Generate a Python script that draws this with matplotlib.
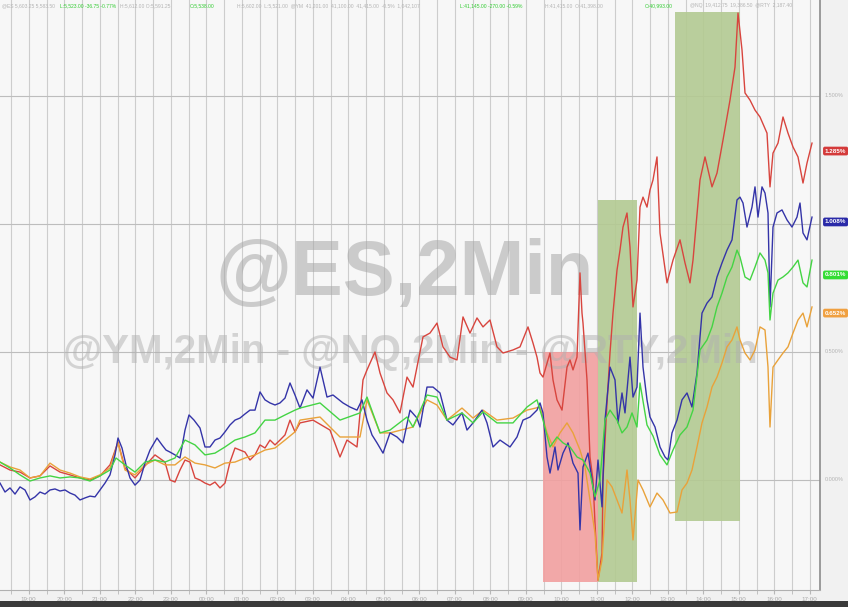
import matplotlib
matplotlib.use('Agg')
import matplotlib.pyplot as plt
import matplotlib.transforms as mtransforms
from matplotlib.patches import Rectangle
import numpy as np

plt.rcParams['font.family'] = ['Liberation Sans', 'DejaVu Sans']

# % change, 2-min bars
nq_x = [0, 10, 20, 30, 40, 50, 60, 70, 80, 90,
        100, 110, 118, 125, 135, 145, 155, 165, 170, 175,
        180, 185, 190, 195, 200, 205, 210, 215, 220, 225,
        230, 235, 240, 245, 250, 255, 260, 265, 270, 275,
        280, 285, 290, 295, 300, 313, 330, 340, 347, 357,
        363, 367, 375, 380, 387, 393, 400, 407, 413, 417,
        423, 430, 437, 443, 450, 457, 463, 470, 477, 483,
        490, 497, 503, 513, 520, 528, 533, 537, 540, 543,
        550, 553, 557, 562, 567, 570, 573, 577, 580, 582,
        583, 587, 590, 593, 595, 598, 602, 603, 607, 610,
        613, 617, 620, 623, 627, 630, 633, 637, 640, 643,
        647, 650, 653, 657, 660, 667, 673, 680, 685, 690,
        693, 700, 705, 712, 717, 723, 730, 735, 738, 742,
        745, 750, 755, 760, 767, 770, 773, 778, 783, 788,
        793, 798, 803, 807, 812]
nq_y = [0.059, 0.039, 0.031, 0.008, 0.016, 0.055, 0.031, 0.020, 0.008, 0.000,
        0.016, 0.059, 0.148, 0.047, 0.008, 0.055, 0.098, 0.070, 0.000, -0.008,
        0.039, 0.078, 0.070, 0.008, 0.000, -0.012, -0.020, -0.008, -0.031, -0.012,
        0.070, 0.125, 0.117, 0.109, 0.078, 0.098, 0.137, 0.125, 0.156, 0.137,
        0.156, 0.176, 0.234, 0.188, 0.223, 0.234, 0.195, 0.090, 0.156, 0.129,
        0.391, 0.430, 0.500, 0.418, 0.340, 0.313, 0.262, 0.402, 0.363, 0.441,
        0.559, 0.574, 0.613, 0.520, 0.480, 0.469, 0.637, 0.574, 0.633, 0.598,
        0.625, 0.520, 0.496, 0.508, 0.520, 0.598, 0.535, 0.480, 0.418, 0.402,
        0.496, 0.391, 0.313, 0.273, 0.441, 0.469, 0.430, 0.480, 0.809, 0.652,
        0.613, 0.391, 0.090, 0.000, -0.168, -0.391, -0.285, 0.000, 0.301, 0.496,
        0.652, 0.820, 0.898, 0.988, 1.043, 0.910, 0.676, 0.781, 1.066, 1.105,
        1.066, 1.133, 1.172, 1.262, 0.965, 0.770, 0.859, 0.938, 0.848, 0.770,
        0.859, 1.172, 1.262, 1.145, 1.199, 1.328, 1.484, 1.613, 1.824, 1.680,
        1.512, 1.484, 1.445, 1.418, 1.355, 1.145, 1.277, 1.316, 1.418, 1.355,
        1.301, 1.262, 1.160, 1.238, 1.316]

es_x = [0, 5, 10, 15, 20, 25, 30, 35, 40, 45,
        50, 55, 60, 65, 70, 75, 80, 85, 90, 95,
        100, 105, 110, 115, 118, 122, 126, 130, 135, 140,
        145, 150, 157, 162, 166, 170, 175, 180, 185, 189,
        194, 200, 205, 210, 215, 220, 225, 230, 235, 240,
        245, 250, 255, 260, 265, 270, 275, 280, 285, 290,
        295, 300, 307, 313, 320, 327, 333, 343, 350, 357,
        362, 367, 372, 377, 383, 390, 397, 403, 410, 417,
        420, 427, 433, 440, 447, 453, 462, 467, 473, 482,
        487, 493, 500, 510, 517, 523, 530, 537, 540, 543,
        547, 550, 555, 558, 563, 568, 573, 578, 580, 583,
        588, 592, 595, 598, 602, 605, 610, 615, 618, 622,
        625, 630, 633, 637, 640, 643, 647, 650, 655, 660,
        665, 668, 672, 677, 682, 687, 692, 697, 702, 707,
        712, 717, 722, 727, 732, 737, 740, 743, 747, 752,
        755, 758, 762, 765, 768, 770, 773, 777, 782, 787,
        792, 797, 800, 803, 807, 812]
es_y = [-0.012, -0.047, -0.031, -0.055, -0.027, -0.039, -0.078, -0.066, -0.047, -0.055,
        -0.039, -0.035, -0.043, -0.039, -0.051, -0.059, -0.078, -0.070, -0.063, -0.066,
        -0.039, -0.012, 0.020, 0.098, 0.164, 0.125, 0.059, 0.008, -0.020, 0.000,
        0.066, 0.117, 0.164, 0.137, 0.117, 0.109, 0.098, 0.086, 0.195, 0.254,
        0.234, 0.203, 0.129, 0.129, 0.156, 0.164, 0.188, 0.215, 0.234, 0.242,
        0.258, 0.273, 0.273, 0.344, 0.313, 0.301, 0.293, 0.301, 0.320, 0.379,
        0.332, 0.281, 0.352, 0.320, 0.441, 0.324, 0.332, 0.301, 0.285, 0.273,
        0.313, 0.234, 0.176, 0.145, 0.105, 0.184, 0.168, 0.145, 0.273, 0.242,
        0.207, 0.363, 0.363, 0.340, 0.234, 0.215, 0.262, 0.195, 0.223, 0.273,
        0.223, 0.129, 0.156, 0.129, 0.168, 0.234, 0.246, 0.273, 0.301, 0.262,
        0.090, 0.027, 0.129, 0.039, 0.105, 0.145, 0.066, 0.027, -0.195, 0.051,
        0.105, 0.000, -0.078, 0.078, -0.105, 0.234, 0.441, 0.391, 0.223, 0.340,
        0.262, 0.480, 0.324, 0.363, 0.652, 0.441, 0.313, 0.246, 0.207, 0.129,
        0.090, 0.078, 0.184, 0.234, 0.313, 0.340, 0.285, 0.418, 0.652, 0.691,
        0.715, 0.793, 0.848, 0.898, 0.938, 1.094, 1.105, 1.082, 0.988, 1.066,
        1.145, 1.027, 1.145, 1.121, 1.043, 0.676, 0.988, 1.043, 1.055, 1.016,
        0.988, 1.027, 1.082, 0.965, 0.938, 1.027]

ym_x = [0, 10, 20, 30, 40, 50, 60, 70, 80, 90,
        100, 110, 116, 125, 135, 145, 155, 165, 175, 185,
        195, 205, 215, 225, 235, 245, 255, 265, 275, 285,
        295, 300, 320, 340, 360, 367, 380, 390, 407, 413,
        427, 437, 447, 462, 473, 483, 497, 513, 527, 537,
        543, 550, 557, 563, 570, 577, 583, 590, 595, 600,
        605, 610, 617, 622, 627, 632, 637, 640, 647, 653,
        660, 667, 673, 680, 687, 693, 700, 707, 712, 717,
        722, 727, 732, 737, 740, 745, 750, 755, 760, 765,
        768, 770, 773, 778, 783, 788, 793, 798, 803, 807,
        812]
ym_y = [0.070, 0.047, 0.020, -0.004, 0.008, 0.016, 0.008, 0.012, 0.008, -0.004,
        0.016, 0.039, 0.086, 0.059, 0.031, 0.070, 0.078, 0.070, 0.086, 0.156,
        0.137, 0.098, 0.105, 0.129, 0.156, 0.168, 0.184, 0.234, 0.234, 0.254,
        0.273, 0.281, 0.301, 0.234, 0.262, 0.324, 0.184, 0.195, 0.246, 0.207,
        0.332, 0.324, 0.234, 0.262, 0.223, 0.266, 0.223, 0.223, 0.285, 0.313,
        0.234, 0.129, 0.168, 0.145, 0.129, 0.090, 0.078, 0.027, -0.066, 0.000,
        0.234, 0.273, 0.234, 0.184, 0.207, 0.262, 0.207, 0.379, 0.215, 0.172,
        0.098, 0.059, 0.117, 0.176, 0.207, 0.273, 0.508, 0.547, 0.598, 0.676,
        0.730, 0.793, 0.832, 0.898, 0.871, 0.793, 0.781, 0.832, 0.887, 0.859,
        0.809, 0.625, 0.730, 0.781, 0.793, 0.809, 0.832, 0.859, 0.770, 0.754,
        0.859]

rty_x = [0, 10, 20, 30, 40, 50, 60, 70, 80, 90,
         100, 110, 118, 125, 135, 145, 155, 165, 175, 185,
         195, 205, 215, 225, 235, 245, 255, 265, 275, 285,
         295, 300, 320, 340, 360, 367, 380, 390, 413, 427,
         437, 447, 462, 473, 483, 497, 513, 527, 540, 547,
         553, 560, 567, 573, 580, 585, 590, 595, 598, 602,
         607, 612, 617, 622, 627, 630, 633, 638, 643, 650,
         657, 663, 670, 677, 682, 687, 692, 697, 702, 707,
         712, 717, 722, 727, 732, 737, 740, 745, 750, 755,
         760, 765, 768, 770, 773, 778, 783, 788, 793, 798,
         803, 807, 812]
rty_y = [0.070, 0.051, 0.039, 0.008, 0.016, 0.066, 0.039, 0.027, 0.012, 0.004,
         0.020, 0.047, 0.145, 0.039, 0.020, 0.059, 0.078, 0.059, 0.059, 0.090,
         0.066, 0.059, 0.047, 0.066, 0.070, 0.086, 0.098, 0.117, 0.125, 0.156,
         0.188, 0.234, 0.246, 0.168, 0.168, 0.313, 0.184, 0.184, 0.207, 0.313,
         0.293, 0.234, 0.281, 0.242, 0.273, 0.234, 0.242, 0.273, 0.285, 0.184,
         0.129, 0.184, 0.223, 0.184, 0.117, 0.051, -0.078, -0.207, -0.391, -0.313,
         0.000, -0.027, -0.078, -0.129, 0.039, -0.078, -0.234, 0.000, -0.039, -0.105,
         -0.051, -0.078, -0.129, -0.125, -0.039, -0.012, 0.039, 0.129, 0.223, 0.285,
         0.363, 0.402, 0.457, 0.520, 0.547, 0.598, 0.547, 0.496, 0.469, 0.508,
         0.598, 0.586, 0.441, 0.207, 0.441, 0.469, 0.496, 0.520, 0.574, 0.625,
         0.652, 0.598, 0.676]

# highlighted windows: (start bar, end bar, low %, high %)
red_spans = [(543, 598, -0.398, 0.500)]
green_spans = [(598, 637, -0.398, 1.094), (675, 740, -0.160, 1.828)]

last_labels = ['1.285%', '1.008%', '0.801%', '0.652%']
last_values = [1.285, 1.008, 0.801, 0.652]
y_grid = [0.0, 0.5, 1.0, 1.5]
grid_labels = [0.0, 0.5, 1.5]
time_labels = ['19:00', '20:00', '21:00', '22:00', '23:00', '00:00', '01:00', '02:00',
               '03:00', '04:00', '05:00', '06:00', '07:00', '08:00', '09:00', '10:00',
               '11:00', '12:00', '13:00', '14:00', '15:00', '16:00', '17:00']

header = [
    (2, '@ES 5,603.25 5,583.50', '#b4b4b4'),
    (60, 'L:5,523.00 -36.75 -0.77%', '#33cc33'),
    (120, 'H:5,612.00 O:5,591.25', '#b4b4b4'),
    (190, 'O:5,538.00', '#33cc33'),
    (237, 'H:5,602.00  L:5,521.00  @YM  41,201.00  41,100.00  41,415.00  -0.5%  1,042,107', '#b4b4b4'),
    (460, 'L:41,145.00 -270.00 -0.59%', '#33cc33'),
    (545, 'H:41,415.00  O:41,398.00', '#b4b4b4'),
    (645, 'O:40,993.00', '#33cc33'),
    (690, '@NQ  19,412.75  19,386.50  @RTY  2,187.40', '#b4b4b4'),
]

fig = plt.figure(figsize=(8.48, 6.07), dpi=100)
fig.patch.set_facecolor('#f1f1f1')
ax = fig.add_axes([0, 17 / 607, 820 / 848, 590 / 607])
ax.set_facecolor('#f7f7f7')

ax.set_xlim(0, 820)
ax.set_ylim(-0.4297, 1.875)

grid_x = 11 + 17.75 * np.arange(46)
ax.set_xticks(grid_x, minor=True)
ax.set_xticks(grid_x[1::2])
ax.set_xticklabels(time_labels, fontsize=4.5, color='#a8a8a8')
ax.set_yticks(y_grid)
ax.tick_params(axis='y', left=False, labelleft=False)
ax.tick_params(axis='x', which='both', length=3, color='#b8b8b8', pad=2)
ax.grid(True, which='both', axis='x', color='#cdcdcd', lw=0.8, zorder=0)
ax.grid(True, which='major', axis='y', color='#bdbdbd', lw=0.8, zorder=0)
ax.set_axisbelow(True)

for loc in ['top', 'left']:
    ax.spines[loc].set_visible(False)
ax.spines['right'].set_color('#8c8c8c')
ax.spines['right'].set_linewidth(1.2)
ax.spines['bottom'].set_color('#b0b0b0')

# shaded windows sit under the watermark and the lines
for x0, x1, lo, hi in red_spans:
    ax.add_patch(Rectangle((x0, lo), x1 - x0, hi - lo, facecolor='#f2a0a0', alpha=0.9,
                           edgecolor='none', zorder=1))
for x0, x1, lo, hi in green_spans:
    ax.add_patch(Rectangle((x0, lo), x1 - x0, hi - lo, facecolor='#b3ca92', alpha=0.9,
                           edgecolor='none', zorder=1))

# watermarks
ax.text(0.494, 0.534, '@ES,2Min', transform=ax.transAxes, fontsize=56, fontweight='bold',
        color='#a8a8a8', alpha=0.55, ha='center', va='center', zorder=2)
ax.text(0.501, 0.403, '@YM,2Min - @NQ,2Min - @RTY,2Min', transform=ax.transAxes, fontsize=29,
        fontweight='bold', color='#b0b0b0', alpha=0.5, ha='center', va='center', zorder=2)

ax.plot(nq_x, nq_y, color='#d8453e', lw=1.0, zorder=3)
ax.plot(rty_x, rty_y, color='#e9a23a', lw=1.0, zorder=3)
ax.plot(es_x, es_y, color='#3434a8', lw=1.0, zorder=3)
ax.plot(ym_x, ym_y, color='#44d444', lw=1.0, zorder=3)

trans = mtransforms.blended_transform_factory(ax.transAxes, ax.transData)
for g in grid_labels:
    ax.text(1.006, g, f'{g:.3f}%', transform=trans, fontsize=4, color='#b4b4b4',
            va='center', ha='left', clip_on=False)
for txt, val, c in zip(last_labels, last_values, ['#d43a3a', '#2a2aa8', '#33dd33', '#f0a040']):
    ax.text(1.006, val, txt, transform=trans, fontsize=4.5, color='white', fontweight='bold',
            va='center', ha='left', clip_on=False,
            bbox=dict(boxstyle='round,pad=0.3', fc=c, ec='none'))

for x, txt, c in header:
    fig.text(x / 848, 1 - 6 / 607, txt, fontsize=3.6, color=c, va='center', ha='left')

fig.add_artist(Rectangle((0, 0), 1, 6 / 607, transform=fig.transFigure,
                         facecolor='#3a3a3a', edgecolor='none'))

plt.savefig('out.png', dpi=100)
